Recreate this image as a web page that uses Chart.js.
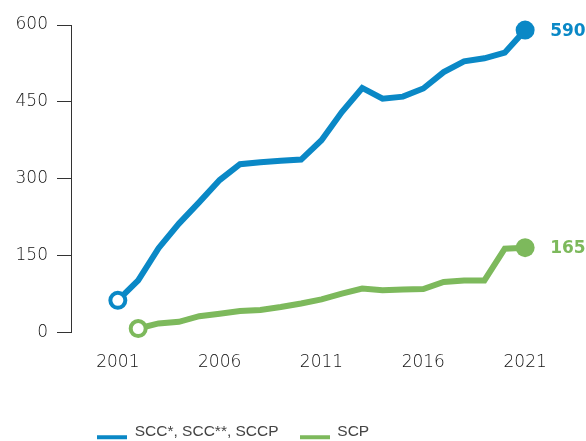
<!DOCTYPE html>
<html>
<head>
<meta charset="utf-8">
<script src="https://cdn.jsdelivr.net/npm/chart.js@4/dist/chart.umd.min.js"></script>
<style>
  html, body { margin: 0; padding: 0; background: #fff; }
  #wrap { width: 586px; height: 441px; }
</style>
</head>
<body>
<div id="wrap"><canvas id="myChart"></canvas></div>
<script>
// Data
const years = [2001, 2002, 2003, 2004, 2005, 2006, 2007, 2008, 2009, 2010, 2011,
               2012, 2013, 2014, 2015, 2016, 2017, 2018, 2019, 2020, 2021];
const sccValues = [62, 101, 164, 212, 254, 297, 328, 332, 335, 337, 375,
                   430, 477, 456, 460, 476, 508, 529, 535, 546, 590];
const scpValues = [null, 7, 17, 20, 31, 36, 41, 43, 49, 56, 64,
                   75, 85, 82, 83, 84, 98, 101, 101, 163, 165];
const xTickYears = [2001, 2006, 2011, 2016, 2021];
const seriesNames = ['SCC*, SCC**, SCCP', 'SCP'];

const blue = '#0a88c6';
const green = '#7db95c';
const axisFont = { family: 'DejaVu Sans', size: 17, weight: '200' };
const axisColor = '#111';

function firstIndex(data) {
  return data.findIndex(v => v !== null);
}

// start point hollow, end point filled, nothing in between
function pointRadius(ctx) {
  const data = ctx.dataset.data;
  if (ctx.dataIndex === firstIndex(data)) return 7.5;
  if (ctx.dataIndex === data.length - 1) return 9.5;
  return 0;
}
function pointFill(ctx) {
  return ctx.dataIndex === ctx.dataset.data.length - 1 ? ctx.dataset.borderColor : '#fff';
}
function pointBorder(ctx) {
  return ctx.dataIndex === ctx.dataset.data.length - 1 ? 0 : 4;
}

// legend swatch: short bar sitting a bit below the text middle
function legendSwatch(color) {
  const c = document.createElement('canvas');
  c.width = 30;
  c.height = 20;
  const g = c.getContext('2d');
  g.fillStyle = color;
  g.fillRect(0, 14, 30, 4);
  return c;
}

// value label next to the last point
const endLabels = {
  id: 'endLabels',
  afterDatasetsDraw(chart) {
    const c = chart.ctx;
    chart.data.datasets.forEach((ds, i) => {
      const meta = chart.getDatasetMeta(i);
      const last = meta.data[meta.data.length - 1];
      c.save();
      c.font = 'bold 17px "DejaVu Sans"';
      c.fillStyle = ds.borderColor;
      c.textAlign = 'left';
      c.textBaseline = 'middle';
      c.fillText(String(ds.data[ds.data.length - 1]), last.x + 25, last.y + 1);
      c.restore();
    });
  }
};

// move the legend row left and down like in the picture
const legendShift = {
  id: 'legendShift',
  afterLayout(chart) {
    const lg = chart.legend;
    lg.left = 76;
    lg.right = lg.left + lg.width;
    lg.top += 10;
    lg.bottom += 10;
  }
};

const chartConfig = {
  type: 'line',
  data: {
    labels: years,
    datasets: [
      {
        label: seriesNames[0],
        data: sccValues,
        borderColor: blue,
        backgroundColor: blue,
        borderWidth: 6,
        pointRadius: pointRadius,
        pointBackgroundColor: pointFill,
        pointBorderWidth: pointBorder,
        pointHoverRadius: pointRadius,
        clip: false
      },
      {
        label: seriesNames[1],
        data: scpValues,
        borderColor: green,
        backgroundColor: green,
        borderWidth: 6,
        pointRadius: pointRadius,
        pointBackgroundColor: pointFill,
        pointBorderWidth: pointBorder,
        pointHoverRadius: pointRadius,
        clip: false
      }
    ]
  },
  options: {
    responsive: true,
    maintainAspectRatio: false,
    animation: false,
    layout: {
      padding: { top: 25, right: 12, bottom: 2, left: 0 }
    },
    scales: {
      x: {
        type: 'linear',
        min: 1998.7,
        max: 2023.4,
        grid: { display: false, drawTicks: false },
        border: { display: false },
        afterBuildTicks: scale => {
          scale.ticks = xTickYears.map(v => ({ value: v }));
        },
        ticks: {
          font: axisFont,
          color: axisColor,
          padding: 20,
          maxRotation: 0,
          callback: v => String(v)
        }
      },
      y: {
        min: 0,
        max: 600,
        afterFit: scale => { scale.width = 71; },
        grid: {
          drawOnChartArea: false,
          color: '#333',
          tickLength: 14
        },
        border: { display: true, color: '#333', width: 1 },
        ticks: {
          stepSize: 150,
          font: axisFont,
          color: axisColor,
          padding: 9
        }
      }
    },
    plugins: {
      legend: {
        position: 'bottom',
        align: 'start',
        labels: {
          usePointStyle: true,
          pointStyleWidth: 30,
          padding: 21,
          color: '#444',
          font: { family: 'Liberation Sans', size: 15.5 },
          generateLabels: chart => {
            const items = Chart.defaults.plugins.legend.labels.generateLabels(chart);
            items.forEach((item, i) => {
              item.pointStyle = legendSwatch(chart.data.datasets[i].borderColor);
            });
            return items;
          }
        }
      },
      tooltip: { enabled: false }
    }
  },
  plugins: [endLabels, legendShift]
};

const ctx = document.getElementById('myChart').getContext('2d');
const myChart = new Chart(ctx, chartConfig);
</script>
</body>
</html>
